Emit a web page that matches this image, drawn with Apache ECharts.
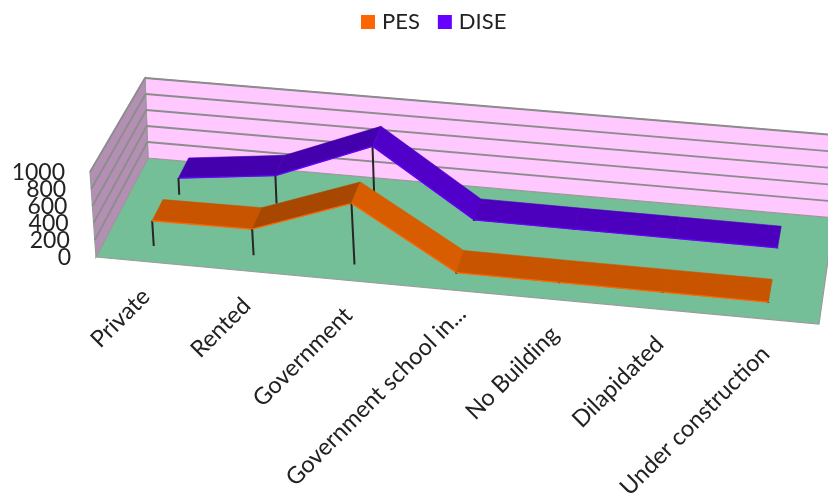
<!DOCTYPE html>
<html>
<head>
<meta charset="utf-8">
<style>html,body{margin:0;padding:0;background:#fff}#chart{width:828px;height:496px}</style>
<script src="https://cdn.jsdelivr.net/npm/echarts@6/dist/echarts.min.js"></script>
</head>
<body>
<div id="chart"></div>
<script>
// School building types, PES and DISE counts
var categories = ['Private', 'Rented', 'Government', 'Government school in...', 'No Building', 'Dilapidated', 'Under construction'];
var pesValues = [300, 310, 725, 15, 10, 8, 5];
var diseValues = [205, 340, 800, 15, 10, 8, 5];
var yTicks = [0, 200, 400, 600, 800, 1000];

var FONT = 'Lato, "Open Sans", sans-serif';

// Corners of the floor on the page: front-left, front-right, back-right, back-left
var floor = [[96, 257], [819, 324], [834, 218], [148, 158]];
// Screen vector of the full value height at the same corners
var rise = [[-6, -85], [-2, -85], [0, -83], [-3, -80]];

var homography = (function () {
  var x0 = floor[0][0], y0 = floor[0][1], x1 = floor[1][0], y1 = floor[1][1];
  var x2 = floor[2][0], y2 = floor[2][1], x3 = floor[3][0], y3 = floor[3][1];
  var dx1 = x1 - x2, dx2 = x3 - x2, sx = x0 - x1 + x2 - x3;
  var dy1 = y1 - y2, dy2 = y3 - y2, sy = y0 - y1 + y2 - y3;
  var den = dx1 * dy2 - dx2 * dy1;
  var g = (sx * dy2 - dx2 * sy) / den, h = (dx1 * sy - sx * dy1) / den;
  return { a: x1 - x0 + g * x1, b: x3 - x0 + h * x3, c: x0, d: y1 - y0 + g * y1, e: y3 - y0 + h * y3, f: y0, g: g, h: h };
})();

// u runs along the categories, d into the depth of the box, v up the value axis (all 0..1)
function project(u, d, v) {
  var m = homography, w = m.g * u + m.h * d + 1;
  var x = (m.a * u + m.b * d + m.c) / w, y = (m.d * u + m.e * d + m.f) / w;
  function mix(k) {
    return (rise[0][k] * (1 - u) + rise[1][k] * u) * (1 - d) + (rise[3][k] * (1 - u) + rise[2][k] * u) * d;
  }
  return [x + mix(0) * v, y + mix(1) * v];
}

// Turn a data pair into box coordinates through the hidden cartesian axes
function toBox(api, params, cat, val) {
  var c = api.coord([cat, val]), s = params.coordSys;
  return { u: (c[0] - s.x) / s.width, v: (s.y + s.height - c[1]) / s.height };
}

function poly(points, fill, stroke, width) {
  return { type: 'polygon', shape: { points: points }, style: { fill: fill, stroke: stroke || fill, lineWidth: width === undefined ? 0.6 : width } };
}
function seg(a, b, color, width) {
  return { type: 'line', shape: { x1: a[0], y1: a[1], x2: b[0], y2: b[1] }, style: { stroke: color, lineWidth: width } };
}

function renderBox() {
  var edge = '#9a9a9a';
  return { type: 'group', children: [
    poly([project(0, 0, 0), project(1, 0, 0), project(1, 1, 0), project(0, 1, 0)], '#74BE98', edge, 1.2),
    poly([project(0, 1, 0), project(1, 1, 0), project(1, 1, 1), project(0, 1, 1)], '#FFC9FF', edge, 1.2),
    poly([project(0, 0, 0), project(0, 1, 0), project(0, 1, 1), project(0, 0, 1)], '#B48FB4', edge, 1.2)
  ] };
}

function renderGridLine(params, api) {
  var s = params.coordSys;
  var v = (s.y + s.height - api.coord([0, api.value(0)])[1]) / s.height;
  if (v === 0) return { type: 'group', children: [] };
  return { type: 'group', children: [
    seg(project(0, 0, v), project(0, 1, v), '#8c8c8c', 1.8),
    seg(project(0, 1, v), project(1, 1, v), '#8c8c8c', 1.8)
  ] };
}

function renderValueLabel(params, api) {
  var s = params.coordSys, val = api.value(0);
  var v = (s.y + s.height - api.coord([0, val])[1]) / s.height;
  var p = project(0, 0, v);
  return { type: 'text', style: { x: p[0] - 25, y: p[1] + 1, text: String(val), align: 'right', verticalAlign: 'middle', font: '23px ' + FONT, fill: '#222' } };
}

function renderCategoryLabel(params, api) {
  var i = api.value(0), s = params.coordSys;
  var u = (api.coord([i, 0])[0] - s.x) / s.width;
  var p = project(u, 0, 0);
  // A shortened label sits further up its slant than the full ones
  var shift = /\.\.\.$/.test(categories[i]) ? 11 : 0;
  return { type: 'text', x: p[0] + shift, y: p[1] + 31 - shift, rotation: Math.PI / 4, style: { x: 0, y: 0, text: categories[i], align: 'right', verticalAlign: 'middle', font: '23.5px ' + FONT, fill: '#222' } };
}

// A flat ribbon for one series: depth band [d0, d1], shaded by the direction of each segment
function ribbon(d0, d1, shades) {
  return function (params, api) {
    var i = api.value(0), val = api.value(1), b = toBox(api, params, i, val);
    var children = [];
    var ground = project(b.u, d0, 0), front = project(b.u, d0, b.v);
    children.push(seg(ground, front, '#262626', 2));
    if (i < categories.length - 1) {
      var nextVal = api.value(1, params.dataIndexInside + 1);
      var n = toBox(api, params, i + 1, nextVal);
      var fill = nextVal - val > 100 ? shades.up : (val - nextVal > 100 ? shades.down : shades.flat);
      var nextFront = project(n.u, d0, n.v);
      children.push(poly([front, nextFront, project(n.u, d1, n.v), project(b.u, d1, b.v)], fill));
      children.push(seg(front, nextFront, shades.edge, 1.3));
    }
    return { type: 'group', children: children };
  };
}

function seriesData(values) {
  return values.map(function (v, i) { return [i, v]; });
}

function customSeries(extra) {
  var base = { type: 'custom', coordinateSystem: 'cartesian2d', silent: true, animation: false };
  for (var k in extra) base[k] = extra[k];
  return base;
}

var chart = echarts.init(document.getElementById('chart'), null, { renderer: 'canvas' });
chart.setOption({
  backgroundColor: '#fff',
  animation: false,
  legend: {
    data: ['PES', 'DISE'], left: 356, top: 6, icon: 'rect', itemWidth: 14, itemHeight: 14, itemGap: 18,
    textStyle: { fontFamily: FONT, fontSize: 22, color: '#222', padding: [0, 0, 0, 2] }
  },
  grid: { left: 100, right: 100, top: 100, bottom: 100 },
  xAxis: { type: 'category', data: categories, show: false },
  yAxis: { type: 'value', min: 0, max: 1000, interval: 200, show: false },
  series: [
    customSeries({ name: 'box', data: [[0, 0]], renderItem: renderBox, z: 1 }),
    customSeries({ name: 'gridlines', data: yTicks.map(function (t) { return [t]; }), encode: { y: 0 }, renderItem: renderGridLine, z: 2 }),
    customSeries({ name: 'valueLabels', data: yTicks.map(function (t) { return [t]; }), encode: { y: 0 }, renderItem: renderValueLabel, z: 3 }),
    customSeries({ name: 'categoryLabels', data: categories.map(function (c, i) { return [i]; }), encode: { x: 0 }, renderItem: renderCategoryLabel, z: 3 }),
    customSeries({
      name: 'DISE', data: seriesData(diseValues), encode: { x: 0, y: 1 }, z: 4,
      itemStyle: { color: '#6600FF' },
      renderItem: ribbon(0.66, 0.87, { flat: '#4C00BE', up: '#4400AC', down: '#5000C8', edge: '#6600FF' })
    }),
    customSeries({
      name: 'PES', data: seriesData(pesValues), encode: { x: 0, y: 1 }, z: 5,
      itemStyle: { color: '#FF6600' },
      renderItem: ribbon(0.15, 0.36, { flat: '#C85400', up: '#A84800', down: '#D85C00', edge: '#FF6600' })
    })
  ]
});
</script>
</body>
</html>
